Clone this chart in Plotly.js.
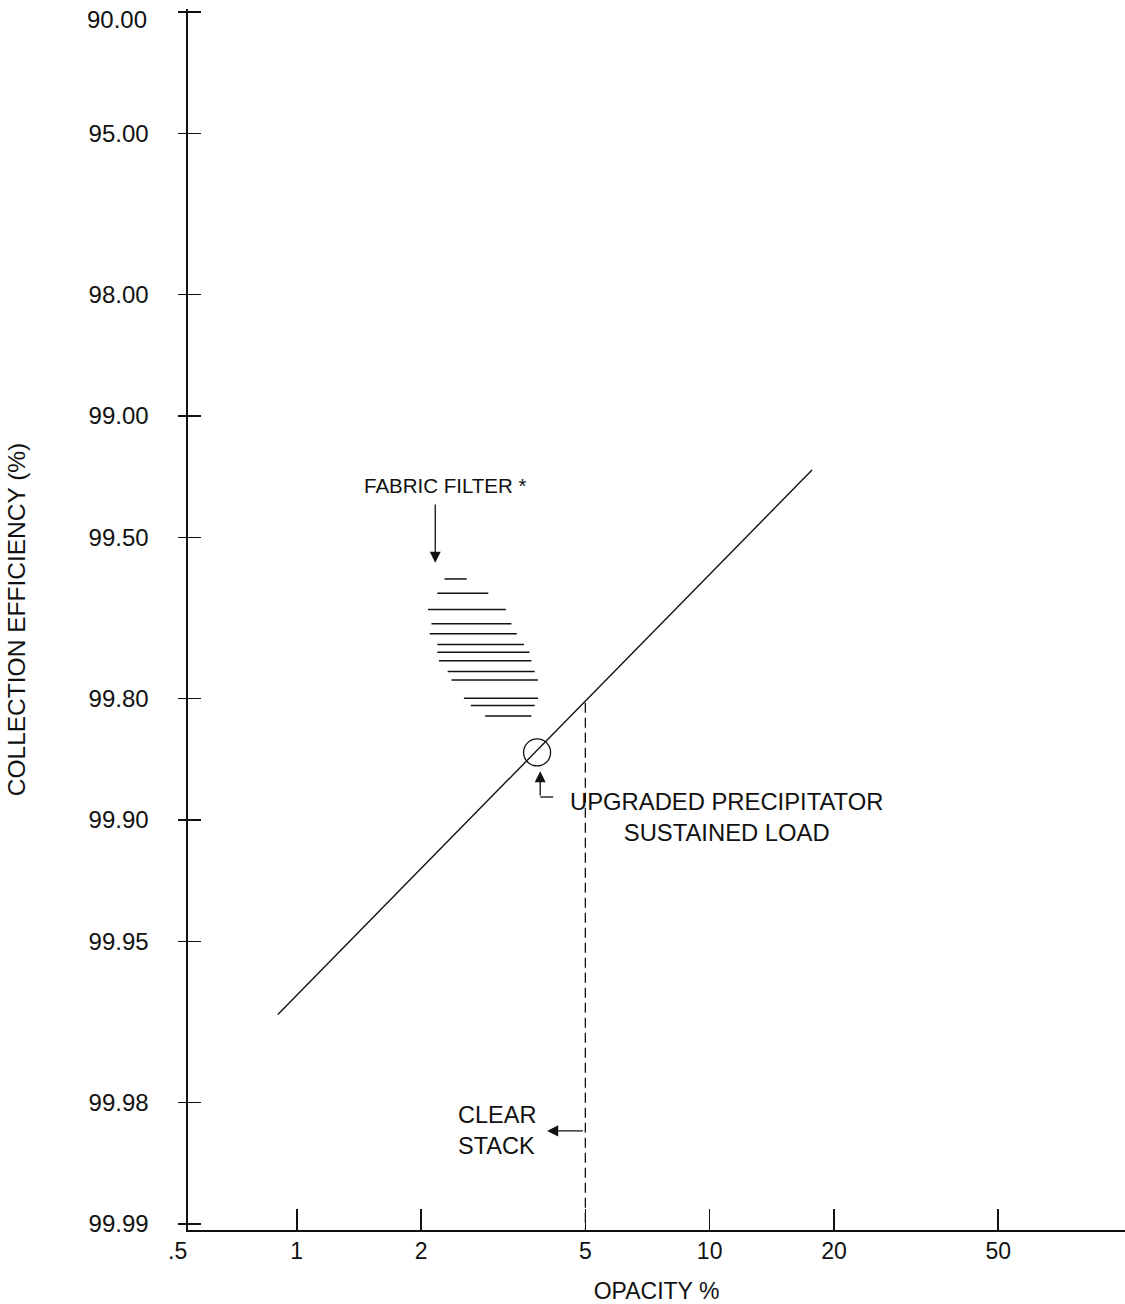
<!DOCTYPE html>
<html><head><meta charset="utf-8">
<script src="https://cdn.plot.ly/plotly-3.0.1.min.js"></script>
<style>html,body{margin:0;padding:0;background:#fff}#chart{width:1125px;height:1304px}</style>
</head><body><div id="chart"></div>
<script>
// ---- Axis ticks ----
const effTickVals = [90, 95, 98, 99, 99.5, 99.8, 99.9, 99.95, 99.98, 99.99];
const effTickText = ['90.00','95.00','98.00','99.00','99.50','99.80','99.90','99.95','99.98','99.99'];
const opacityTickVals = [1, 2, 5, 10, 20, 50];
const opacityTickText = ['1','2','5','10','20','50'];
const opacityLowLabel = '.5';

// ---- Precipitator line (opacity % vs collection efficiency %) ----
const lineOpacity = [0.90, 17.7];
const lineEff = [99.967, 99.265];

// ---- Upgraded precipitator, sustained load ----
const upgradedOpacity = [3.82];
const upgradedEff = [99.853];

// ---- Clear stack limit ----
const clearStackOpacity = [5, 5];
const clearStackEff = [99.805, 99.9903];

// ---- Fabric filter band (hatch rows) ----
const ffOpacityLo = [2.28, 2.19, 2.08, 2.12, 2.10, 2.19, 2.19, 2.21, 2.32, 2.37, 2.54, 2.64, 2.86];
const ffOpacityHi = [2.58, 2.91, 3.21, 3.31, 3.41, 3.55, 3.66, 3.70, 3.77, 3.84, 3.84, 3.77, 3.70];
const ffEff       = [99.605, 99.636, 99.668, 99.694, 99.711, 99.728, 99.740, 99.752, 99.767, 99.778, 99.800, 99.808, 99.819];

// ---- Callouts ----
const ffLabel = {text: 'FABRIC FILTER *', opacity: 2.296, eff: 99.329};
const ffArrow = {opacity: 2.165, effTip: 99.567, effTail: 99.391};
const upLabel = {text: 'UPGRADED PRECIPITATOR<br>SUSTAINED LOAD', opacity: 11.0, eff: 99.898};
const upElbowOpacity = [4.179, 3.887];
const upElbowEff = [99.886, 99.886];
const upArrow = {opacity: 3.887, effTip: 99.868, effTail: 99.886};
const csLabel = {text: 'CLEAR<br>STACK', opacity: 3.06, eff: 99.983};
const csArrow = {opacityTip: 4.04, opacityTail: 4.97, eff: 99.983};

// penetration (100 - efficiency) drives the probability-style log axis
const pen = e => 100 - e;
const L = Math.log10;
const ly = e => L(pen(e));

const FONT = 'Liberation Sans, Arial, Helvetica, sans-serif';
const BLACK = '#111';

const ffX = [], ffY = [];
for (let i = 0; i < ffEff.length; i++) {
  ffX.push(ffOpacityLo[i], ffOpacityHi[i], null);
  ffY.push(pen(ffEff[i]), pen(ffEff[i]), null);
}

const traces = [
  {x: lineOpacity, y: lineEff.map(pen), mode: 'lines', line: {color: BLACK, width: 1.4}, hoverinfo: 'skip'},
  {x: ffX, y: ffY, mode: 'lines', line: {color: BLACK, width: 1.5}, connectgaps: false, hoverinfo: 'skip'},
  {x: upgradedOpacity, y: upgradedEff.map(pen), mode: 'markers',
   marker: {symbol: 'circle-open', size: 27, color: BLACK, line: {width: 1.3, color: BLACK}}, hoverinfo: 'skip'},
  {x: clearStackOpacity, y: clearStackEff.map(pen), mode: 'lines', yaxis: 'y2',
   line: {color: BLACK, width: 1.3, dash: '10px,5px'}, hoverinfo: 'skip'},
  {x: upElbowOpacity, y: upElbowEff.map(pen), mode: 'lines', line: {color: BLACK, width: 1.3}, hoverinfo: 'skip'}
];

const xRange = [-0.2634, 2.006];
const yRange = [-2.0149, 1.0074];

// top tick label sits slightly below its tick in the reference; draw it as an annotation
const yTickTextShown = effTickText.map((t, i) => i === 0 ? '' : t);

const arrowCommon = {showarrow: true, arrowhead: 2, arrowsize: 1.7, arrowwidth: 1.3, arrowcolor: BLACK,
  axref: 'x', ayref: 'y', text: '', standoff: 0, startstandoff: 0};

const layout = {
  width: 1125, height: 1304,
  margin: {l: 188, r: 0, t: 9, b: 74},
  paper_bgcolor: '#fff', plot_bgcolor: '#fff',
  showlegend: false,
  font: {family: FONT, color: BLACK},
  xaxis: {
    type: 'log', range: xRange, autorange: false,
    tickmode: 'array', tickvals: opacityTickVals, ticktext: opacityTickText,
    ticks: 'inside', ticklen: 21, tickwidth: 1.5, tickcolor: BLACK,
    showline: true, linecolor: BLACK, linewidth: 1.6, showgrid: false, zeroline: false,
    tickfont: {size: 23, family: FONT, color: BLACK},
    ticklabeloverflow: 'allow',
    title: {text: 'OPACITY %', font: {size: 23, family: FONT, color: BLACK}, standoff: 22},
    automargin: false
  },
  yaxis: {
    type: 'log', range: yRange, autorange: false,
    tickmode: 'array', tickvals: effTickVals.map(pen), ticktext: yTickTextShown,
    ticks: 'outside', ticklen: 8, tickwidth: 1.5, tickcolor: BLACK,
    ticklabelstandoff: 25, ticklabeloverflow: 'allow',
    showline: true, linecolor: BLACK, linewidth: 1.6, showgrid: false, zeroline: false,
    tickfont: {size: 24, family: FONT, color: BLACK},
    title: {text: 'COLLECTION EFFICIENCY (%)', font: {size: 24.5, family: FONT, color: BLACK}, standoff: 56},
    automargin: false
  },
  yaxis2: {
    type: 'log', range: yRange, autorange: false, overlaying: 'y', side: 'left', anchor: 'x',
    tickmode: 'array', tickvals: effTickVals.map(pen), showticklabels: false,
    ticks: 'inside', ticklen: 13, tickwidth: 1.5, tickcolor: BLACK,
    showline: false, showgrid: false, zeroline: false
  },
  annotations: [
    {xref: 'paper', yref: 'y', x: (149 - 188) / 937, y: ly(effTickVals[0]), xanchor: 'right', yanchor: 'middle', yshift: -8,
     text: effTickText[0], showarrow: false, font: {size: 24, family: FONT, color: BLACK}},
    {xref: 'paper', yref: 'paper', x: (177 - 188) / 937, y: 0, yanchor: 'top', xanchor: 'center', yshift: -6,
     text: opacityLowLabel, showarrow: false, font: {size: 23, family: FONT, color: BLACK}},
    {x: L(ffLabel.opacity), y: ly(ffLabel.eff), text: ffLabel.text, showarrow: false,
     font: {size: 20.5, family: FONT, color: BLACK}},
    Object.assign({x: L(ffArrow.opacity), y: ly(ffArrow.effTip), ax: L(ffArrow.opacity), ay: ly(ffArrow.effTail)}, arrowCommon),
    {x: L(upLabel.opacity), y: ly(upLabel.eff), text: upLabel.text, showarrow: false, align: 'center',
     font: {size: 23.8, family: FONT, color: BLACK}},
    Object.assign({x: L(upArrow.opacity), y: ly(upArrow.effTip), ax: L(upArrow.opacity), ay: ly(upArrow.effTail)}, arrowCommon),
    {x: L(csLabel.opacity), y: ly(csLabel.eff), text: csLabel.text, showarrow: false, align: 'left',
     font: {size: 23.5, family: FONT, color: BLACK}},
    Object.assign({x: L(csArrow.opacityTip), y: ly(csArrow.eff), ax: L(csArrow.opacityTail), ay: ly(csArrow.eff)}, arrowCommon)
  ]
};

Plotly.newPlot('chart', traces, layout, {staticPlot: true, displayModeBar: false});
</script>
</body></html>
